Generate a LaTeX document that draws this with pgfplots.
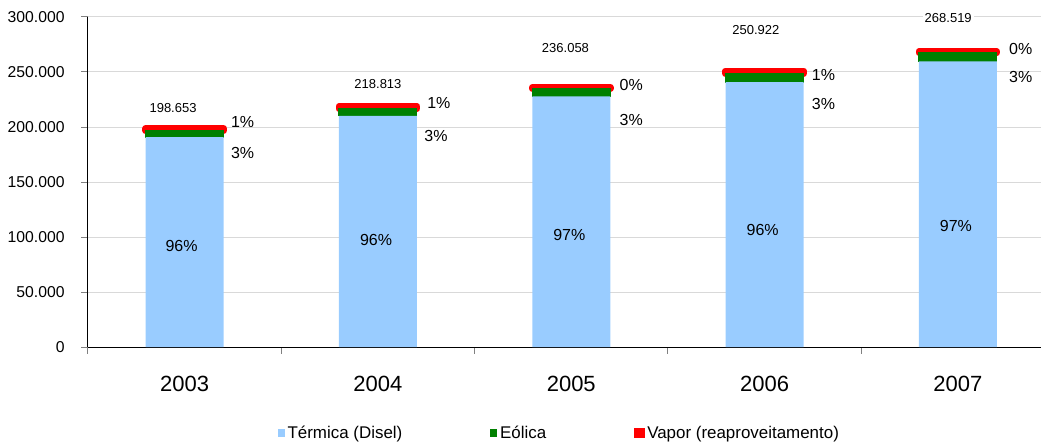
\documentclass[border=0pt]{standalone}
\usepackage{pgfplots}
\pgfplotsset{compat=1.18}
\usepackage{fontspec}
\setmainfont{Liberation Sans}

\definecolor{termica}{RGB}{153,204,255}
\definecolor{eolica}{RGB}{0,128,0}
\definecolor{vapor}{RGB}{255,0,0}
\definecolor{gridgray}{RGB}{217,217,217}

\tikzset{
  tot/.style={fill=white, inner sep=1.5pt, font=\fontsize{9.75}{11}\selectfont},
  pct/.style={font=\fontsize{12}{14}\selectfont},
}

\begin{document}
\begin{tikzpicture}
\useasboundingbox (-66pt,-74.25pt) rectangle (714.75pt,260.25pt);
\begin{axis}[
  scale only axis,
  width=714.75pt, height=247.5pt,
  ybar stacked, bar width=58.5pt,
  xmin=-0.5, xmax=4.43,
  ymin=0, ymax=300000,
  clip=false,
  axis x line*=bottom, axis y line*=left,
  axis line style={black, line width=0.75pt},
  xtick={0,1,2,3,4},
  xticklabels={2003,2004,2005,2006,2007},
  major x tick style={draw=none},
  minor xtick={-0.5,0.5,1.5,2.5,3.5},
  minor x tick style={gray, line width=0.75pt},
  minor tick length=5pt,
  ytick={0,50000,...,300000},
  y tick style={gray, line width=0.75pt},
  major tick length=5pt,
  tick align=outside,
  ymajorgrids, grid style={gridgray, line width=0.75pt},
  scaled y ticks=false,
  /pgf/number format/fixed,
  /pgf/number format/precision=0,
  /pgf/number format/1000 sep={.},
  /pgf/number format/assume math mode=true,
  yticklabel style={font=\fontsize{11.8}{14}\selectfont, xshift=-9pt},
  xticklabel style={font=\fontsize{16.5}{19}\selectfont, yshift=-13pt},
  legend columns=3,
  legend style={draw=none, at={(0.495,-0.2606)}, anchor=center,
    font=\fontsize{12.7}{14}\selectfont,
    /tikz/every even column/.append style={column sep=64pt}},
  legend image code/.code={\fill[#1, draw=none] (0pt,-2.7pt) rectangle (5.3pt,2.7pt);},
  after end axis/.code={
    % totals
    \node[tot] at (axis cs:-0.06,217300) {198.653};
    \node[tot] at (axis cs:1.0,239100) {218.813};
    \node[tot] at (axis cs:1.97,271800) {236.058};
    \node[tot] at (axis cs:2.955,288200) {250.922};
    \node[tot] at (axis cs:3.95,299100) {268.519};
    % percentages
    \node[pct] at (axis cs:-0.016,91500) {96\%};
    \node[pct] at (axis cs:0.99,97300) {96\%};
    \node[pct] at (axis cs:1.99,101800) {97\%};
    \node[pct] at (axis cs:2.99,106400) {96\%};
    \node[pct] at (axis cs:3.99,110000) {97\%};
    \node[pct] at (axis cs:0.30,204500) {1\%};
    \node[pct] at (axis cs:0.30,176400) {3\%};
    \node[pct] at (axis cs:1.315,221800) {1\%};
    \node[pct] at (axis cs:1.30,191800) {3\%};
    \node[pct] at (axis cs:2.31,238200) {0\%};
    \node[pct] at (axis cs:2.31,206400) {3\%};
    \node[pct] at (axis cs:3.305,247000) {1\%};
    \node[pct] at (axis cs:3.305,220900) {3\%};
    \node[pct] at (axis cs:4.325,271200) {0\%};
    \node[pct] at (axis cs:4.325,245500) {3\%};
  },
]
% Termica (Disel)
\addplot[fill=termica, draw=none] coordinates {
  (0,190700) (1,210060) (2,227878) (3,240885) (4,259600)};
% Eolica
\addplot[fill=eolica, draw=eolica, line width=0.75pt] coordinates {
  (0,5960) (1,6560) (2,7080) (3,7528) (4,8000)};
% Vapor (reaproveitamento)
\addplot[fill=vapor, draw=vapor, line width=5pt, line join=round,
  legend image code/.code={\fill[vapor, draw=none] (-1.5pt,-3.8pt) rectangle (6.3pt,3.8pt);}] coordinates {
  (0,1993) (1,2193) (2,1100) (3,2509) (4,919)};
\legend{Térmica (Disel), Eólica, Vapor (reaproveitamento)}
\end{axis}
\end{tikzpicture}
\end{document}
